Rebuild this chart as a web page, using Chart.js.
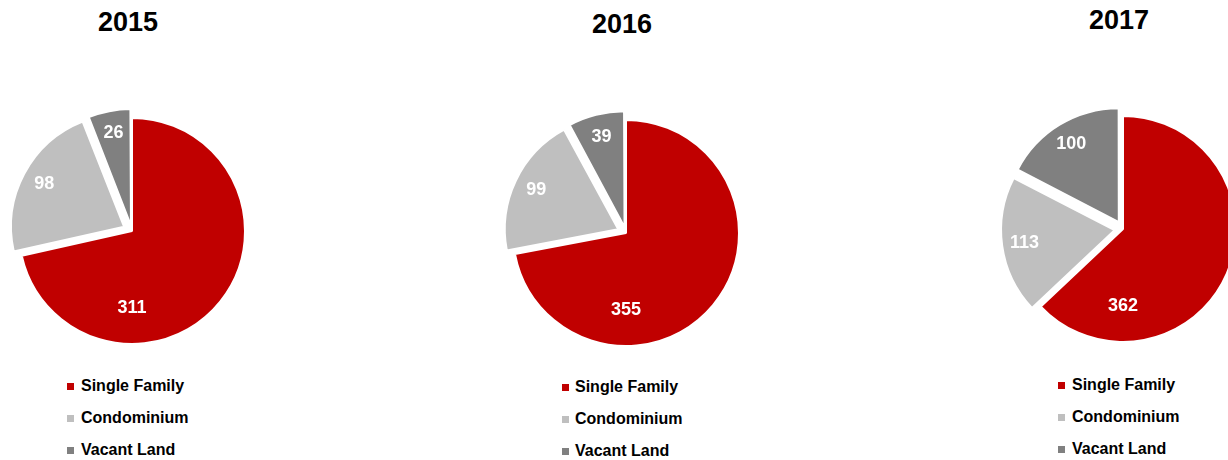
<!DOCTYPE html>
<html>
<head>
<meta charset="utf-8">
<script src="https://cdn.jsdelivr.net/npm/chart.js@4.4.1/dist/chart.umd.min.js"></script>
<style>
  html, body { margin: 0; padding: 0; background: #ffffff; }
  body { width: 1228px; height: 460px; overflow: hidden; position: relative; font-family: "Liberation Sans", Arial, sans-serif; }
  .title { position: absolute; width: 200px; text-align: center; font-weight: bold; font-size: 27px; line-height: 27px; color: #000; }
  .pie { position: absolute; }
  .row { position: absolute; height: 16px; font-weight: bold; font-size: 16px; line-height: 16px; color: #000; white-space: nowrap; }
  .sq { position: absolute; left: 0; top: 5px; width: 7px; height: 7px; }
  .txt { position: absolute; top: 0; }
</style>
</head>
<body>
<script>
// ---- data ----
const years = ['2015', '2016', '2017'];
const categories = ['Single Family', 'Condominium', 'Vacant Land'];
const singleFamily = [311, 355, 362];
const condominium = [98, 99, 113];
const vacantLand = [26, 39, 100];

// ---- styles / layout (not data) ----
const sliceColors = ['#C00000', '#BFBFBF', '#808080'];
const pieLayout = [
  { cx: 132, cy: 231, titleX: 128, titleTop: 9,  legX: 67,   legBase: 391, txtOff: 14 },
  { cx: 626, cy: 233, titleX: 622, titleTop: 11, legX: 562,  legBase: 392, txtOff: 13 },
  { cx: 1123, cy: 229, titleX: 1119, titleTop: 7, legX: 1058, legBase: 390, txtOff: 14 }
];
const CANVAS = 260;
const RADIUS = 113;
const EXPLODE = 9;      // pixel shift of exploded slices
const ROW_GAP = 32;

const valueLabels = {
  id: 'valueLabels',
  afterDatasetsDraw(chart) {
    const ctx = chart.ctx;
    const meta = chart.getDatasetMeta(0);
    const data = chart.data.datasets[0].data;
    ctx.save();
    ctx.font = 'bold 18px "Liberation Sans", Arial, sans-serif';
    ctx.fillStyle = '#ffffff';
    ctx.textAlign = 'center';
    ctx.textBaseline = 'middle';
    meta.data.forEach((arc, i) => {
      const p = arc.getProps(['x', 'y', 'startAngle', 'endAngle', 'outerRadius', 'circumference'], true);
      const mid = (p.startAngle + p.endAngle) / 2;
      const off = (arc.options.offset || 0) / 4;
      const fix = 1 - Math.sin(Math.min(Math.PI, p.circumference));
      const shift = off * (1 + fix);
      const cx = p.x + Math.cos(mid) * shift;
      const cy = p.y + Math.sin(mid) * shift;
      let ang = mid, dist = 0.8 * p.outerRadius;
      if (p.circumference > Math.PI) {
        let a = Math.PI / 2;
        while (a < p.startAngle) a += 2 * Math.PI;
        if (a <= p.endAngle) ang = Math.PI / 2;
        dist = 0.68 * p.outerRadius;
      }
      ctx.fillText(String(data[i]), cx + Math.cos(ang) * dist, cy + Math.sin(ang) * dist);
    });
    ctx.restore();
  }
};

years.forEach((yr, k) => {
  const L = pieLayout[k];
  const values = [singleFamily[k], condominium[k], vacantLand[k]];

  const t = document.createElement('div');
  t.className = 'title';
  t.textContent = yr;
  t.style.left = (L.titleX - 100) + 'px';
  t.style.top = L.titleTop + 'px';
  document.body.appendChild(t);

  const cv = document.createElement('canvas');
  cv.className = 'pie';
  cv.width = CANVAS; cv.height = CANVAS;
  cv.style.width = CANVAS + 'px'; cv.style.height = CANVAS + 'px';
  cv.style.left = (L.cx - CANVAS / 2) + 'px';
  cv.style.top = (L.cy - CANVAS / 2) + 'px';
  document.body.appendChild(cv);

  new Chart(cv.getContext('2d'), {
    type: 'pie',
    data: {
      labels: categories,
      datasets: [{
        data: values,
        backgroundColor: sliceColors,
        borderColor: '#ffffff',
        borderWidth: 2,
        hoverOffset: 0,
        offset: (c) => {
          if (c.dataIndex === 0) return 0;
          const d = c.dataset.data;
          const tot = d.reduce((a, b) => a + b, 0);
          const circ = d[c.dataIndex] / tot * 2 * Math.PI;
          const fix = 1 - Math.sin(Math.min(Math.PI, circ));
          return EXPLODE * 4 / (1 + fix);
        }
      }]
    },
    options: {
      responsive: false,
      animation: false,
      devicePixelRatio: 1,
      events: [],
      radius: RADIUS,
      layout: { padding: 0 },
      plugins: { legend: { display: false }, tooltip: { enabled: false }, title: { display: false } }
    },
    plugins: [valueLabels]
  });

  categories.forEach((cat, j) => {
    const row = document.createElement('div');
    row.className = 'row';
    row.style.left = L.legX + 'px';
    row.style.top = (L.legBase + j * ROW_GAP - 13.5) + 'px';
    const sq = document.createElement('span');
    sq.className = 'sq';
    sq.style.background = sliceColors[j];
    const tx = document.createElement('span');
    tx.className = 'txt';
    tx.style.left = L.txtOff + 'px';
    tx.textContent = cat;
    row.appendChild(sq); row.appendChild(tx);
    document.body.appendChild(row);
  });
});
</script>
</body>
</html>
